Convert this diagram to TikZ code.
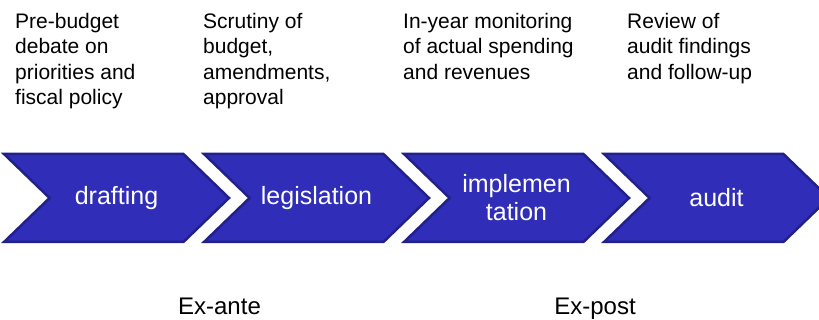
\documentclass[tikz,border=0pt]{standalone}
\usepackage{fontspec}
\setmainfont{Liberation Sans}
\usetikzlibrary{shapes.symbols}
\definecolor{stagefill}{RGB}{48,45,184}
\definecolor{stageline}{RGB}{34,32,138}

\begin{document}
\begin{tikzpicture}[x=1pt, y=-1pt,
            stagenode/.style={signal, signal to=east, signal from=west, signal pointer angle=88,
                draw=stageline, fill=stagefill, line width=2.5pt, minimum width=225pt, minimum height=88pt,
                inner sep=0pt, text=white, font=\fontsize{25}{28}\selectfont, align=center},
            notenode/.style={anchor=north west, inner sep=0pt, align=left, font=\fontsize{21}{25.5}\selectfont},
            phasenode/.style={anchor=base, inner sep=0pt, font=\fontsize{24}{28}\selectfont},
        ]
            \useasboundingbox (0,0) rectangle (819,320);

            %Stages
            \node[stagenode](draft) at (116.5,198) {drafting};
            \node[stagenode](legis) at (316.5,198) {legislation};
            \node[stagenode](implem) at (516.5,198) {implemen\\tation};
            \node[stagenode](audit) at (716.5,198) {\raisebox{-4pt}{audit}};

            %Notes
            \node[notenode](draftnote) at (15,13) {Pre-budget\\debate on\\priorities and\\fiscal policy};
            \node[notenode](legisnote) at (203,13) {Scrutiny of\\budget,\\amendments,\\approval};
            \node[notenode](implemnote) at (403,13) {In-year monitoring\\of actual spending\\and revenues};
            \node[notenode](auditnote) at (627,13) {Review of\\audit findings\\and follow-up};

            %Phases
            \node[phasenode](exante) at (219.5,314) {Ex-ante};
            \node[phasenode](expost) at (595,314) {Ex-post};
        \end{tikzpicture}
\end{document}
